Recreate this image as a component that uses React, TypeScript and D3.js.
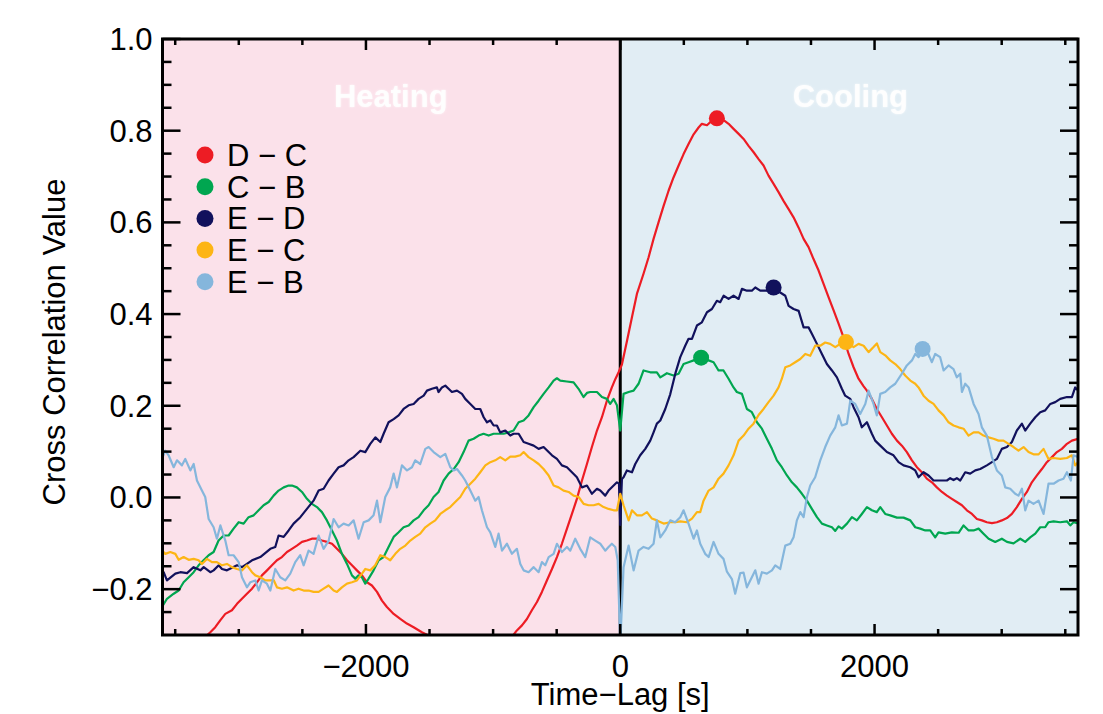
import React from "react";
import * as d3 from "d3";

type Pt = [number, number | null];

// ---- Data (time-lag in s, cross-correlation value) ----
const seriesNames = ["D \u2212 C", "C \u2212 B", "E \u2212 D", "E \u2212 C", "E \u2212 B"];
const seriesColors = ["#ed1c24", "#00a650", "#11115c", "#fdb515", "#85b6dc"];

const dcData: Pt[] = [
  [-3263,-0.304],[-3224,-0.294],[-3185,-0.283],[-3146,-0.268],[-3106,-0.254],[-3054,-0.246],[-3014,-0.232],[-2975,-0.221],[-2936,-0.210],[-2896,-0.199],[-2857,-0.185],[-2818,-0.170],[-2778,-0.159],[-2739,-0.148],[-2700,-0.137],[-2661,-0.130],[-2621,-0.119],[-2582,-0.112],[-2543,-0.105],[-2503,-0.097],[-2464,-0.094],[-2425,-0.090],[-2385,-0.090],[-2346,-0.094],[-2307,-0.097],[-2267,-0.101],[-2228,-0.112],[-2189,-0.123],[-2149,-0.137],[-2110,-0.148],[-2071,-0.159],[-2031,-0.170],[-1992,-0.185],[-1953,-0.192],[-1913,-0.206],[-1874,-0.225],[-1835,-0.239],[-1782,-0.254],[-1730,-0.265],[-1678,-0.275],[-1625,-0.283],[-1560,-0.294],[-1494,-0.303],
  [-1200,null],
  [-852,-0.304],[-813,-0.290],[-773,-0.279],[-734,-0.265],[-695,-0.246],[-655,-0.228],[-616,-0.206],[-577,-0.181],[-537,-0.156],[-498,-0.130],[-459,-0.101],[-419,-0.068],[-380,-0.036],[-341,-0.003],[-301,0.037],[-262,0.073],[-223,0.110],[-183,0.146],[-144,0.175],[-105,0.211],[-66,0.240],[-39,0.258],[-13,0.273],[13,0.290],[52,0.340],[92,0.393],[131,0.444],[183,0.488],[223,0.524],[262,0.564],[301,0.600],[341,0.636],[380,0.669],[419,0.698],[459,0.724],[498,0.749],[537,0.771],[577,0.792],[616,0.807],[642,0.815],[682,0.812],[721,0.822],[760,0.827],[813,0.823],[852,0.815],[891,0.804],[931,0.793],[970,0.782],[1009,0.767],[1049,0.753],[1088,0.738],[1127,0.724],[1166,0.702],[1206,0.684],[1245,0.666],[1284,0.647],[1324,0.629],[1363,0.611],[1402,0.589],[1442,0.564],[1481,0.546],[1520,0.520],[1560,0.495],[1599,0.466],[1638,0.437],[1678,0.408],[1717,0.379],[1756,0.349],[1796,0.313],[1835,0.284],[1874,0.259],[1913,0.243],[1940,0.233],[1979,0.215],[2018,0.193],[2058,0.175],[2097,0.157],[2136,0.139],[2176,0.124],[2215,0.113],[2254,0.099],[2294,0.081],[2333,0.066],[2372,0.055],[2411,0.041],[2451,0.033],[2490,0.022],[2530,0.012],[2569,0.004],[2608,-0.003],[2647,-0.010],[2687,-0.017],[2726,-0.028],[2766,-0.036],[2805,-0.047],[2844,-0.050],[2883,-0.054],[2923,-0.056],[2962,-0.054],[3001,-0.050],[3041,-0.045],[3080,-0.036],[3119,-0.021],[3159,-0.003],[3198,0.012],[3237,0.033],[3277,0.048],[3316,0.062],[3355,0.077],[3395,0.088],[3434,0.099],[3473,0.106],[3513,0.117],[3552,0.124],[3600,0.128],
];

const cbData: Pt[] = [
  [-3604,-0.239],[-3565,-0.221],[-3512,-0.210],[-3473,-0.203],[-3434,-0.185],[-3394,-0.174],[-3355,-0.163],[-3316,-0.148],[-3277,-0.137],[-3237,-0.126],[-3198,-0.119],[-3159,-0.094],[-3119,-0.083],[-3080,-0.083],[-3041,-0.068],[-3001,-0.054],[-2962,-0.057],[-2923,-0.043],[-2883,-0.039],[-2844,-0.028],[-2805,-0.017],[-2765,-0.010],[-2726,0.004],[-2687,0.015],[-2647,0.022],[-2608,0.026],[-2582,0.026],[-2543,0.022],[-2503,0.012],[-2464,-0.003],[-2425,-0.014],[-2385,-0.021],[-2346,-0.032],[-2307,-0.050],[-2267,-0.072],[-2228,-0.094],[-2189,-0.123],[-2149,-0.145],[-2110,-0.170],[-2084,-0.177],[-2058,-0.170],[-2032,-0.174],[-2005,-0.188],[-1979,-0.177],[-1940,-0.159],[-1900,-0.137],[-1861,-0.130],[-1822,-0.108],[-1782,-0.086],[-1743,-0.076],[-1704,-0.065],[-1664,-0.061],[-1625,-0.050],[-1586,-0.043],[-1546,-0.028],[-1507,-0.017],[-1468,0.001],[-1429,0.012],[-1389,0.037],[-1350,0.052],[-1310,0.062],[-1271,0.077],[-1232,0.099],[-1193,0.124],[-1153,0.128],[-1114,0.135],[-1075,0.139],[-1035,0.135],[-996,0.139],[-957,0.139],[-917,0.139],[-878,0.142],[-839,0.146],[-799,0.164],[-760,0.168],[-721,0.179],[-681,0.197],[-642,0.211],[-603,0.226],[-563,0.240],[-524,0.255],[-498,0.260],[-472,0.255],[-420,0.253],[-367,0.251],[-328,0.237],[-289,0.219],[-262,0.228],[-236,0.230],[-183,0.230],[-144,0.219],[-105,0.215],[-79,0.204],[-52,0.215],[-26,0.201],[0,0.146],[26,0.226],[66,0.230],[105,0.233],[144,0.248],[183,0.277],[236,0.273],[288,0.273],[315,0.262],[367,0.271],[419,0.266],[459,0.270],[498,0.291],[537,0.295],[577,0.299],[636,0.305],[695,0.299],[734,0.295],[773,0.277],[812,0.277],[852,0.259],[891,0.240],[917,0.230],[957,0.226],[996,0.193],[1035,0.186],[1075,0.164],[1114,0.150],[1153,0.128],[1193,0.106],[1232,0.081],[1271,0.066],[1311,0.048],[1350,0.033],[1389,0.022],[1429,0.008],[1468,-0.007],[1507,-0.025],[1547,-0.043],[1586,-0.057],[1625,-0.061],[1665,-0.065],[1691,-0.073],[1717,-0.063],[1743,-0.068],[1783,-0.057],[1822,-0.043],[1861,-0.050],[1900,-0.036],[1940,-0.021],[1979,-0.028],[2018,-0.032],[2045,-0.021],[2084,-0.036],[2123,-0.039],[2176,-0.044],[2228,-0.044],[2281,-0.050],[2320,-0.065],[2359,-0.068],[2399,-0.072],[2438,-0.072],[2477,-0.087],[2503,-0.076],[2556,-0.079],[2608,-0.076],[2661,-0.077],[2700,-0.061],[2740,-0.072],[2779,-0.072],[2818,-0.068],[2857,-0.079],[2897,-0.090],[2949,-0.097],[3001,-0.090],[3041,-0.097],[3093,-0.100],[3146,-0.090],[3185,-0.097],[3224,-0.087],[3264,-0.079],[3303,-0.065],[3342,-0.065],[3368,-0.054],[3408,-0.052],[3460,-0.054],[3513,-0.052],[3539,-0.061],[3565,-0.054],[3604,-0.057],
];

const edData: Pt[] = [
  [-3604,-0.170],[-3591,-0.163],[-3565,-0.181],[-3499,-0.166],[-3460,-0.163],[-3407,-0.165],[-3355,-0.152],[-3302,-0.159],[-3276,-0.152],[-3224,-0.163],[-3198,-0.159],[-3158,-0.148],[-3132,-0.156],[-3093,-0.159],[-3014,-0.148],[-2975,-0.152],[-2936,-0.145],[-2896,-0.137],[-2831,-0.130],[-2752,-0.112],[-2713,-0.108],[-2687,-0.083],[-2647,-0.086],[-2608,-0.072],[-2569,-0.057],[-2516,-0.043],[-2464,-0.025],[-2412,-0.007],[-2372,0.015],[-2333,0.019],[-2294,0.037],[-2254,0.052],[-2215,0.066],[-2176,0.070],[-2136,0.081],[-2097,0.088],[-2044,0.102],[-2005,0.099],[-1966,0.117],[-1926,0.131],[-1887,0.121],[-1861,0.139],[-1822,0.164],[-1782,0.171],[-1743,0.179],[-1704,0.193],[-1664,0.201],[-1625,0.204],[-1586,0.215],[-1546,0.222],[-1520,0.233],[-1481,0.237],[-1442,0.240],[-1429,0.230],[-1402,0.240],[-1376,0.244],[-1350,0.237],[-1324,0.230],[-1284,0.233],[-1245,0.226],[-1219,0.215],[-1179,0.204],[-1140,0.193],[-1101,0.193],[-1074,0.175],[-1048,0.164],[-1022,0.168],[-996,0.157],[-970,0.157],[-944,0.142],[-904,0.146],[-865,0.135],[-839,0.139],[-799,0.139],[-760,0.121],[-721,0.117],[-681,0.113],[-642,0.106],[-603,0.110],[-563,0.099],[-537,0.092],[-498,0.084],[-459,0.070],[-419,0.066],[-380,0.055],[-341,0.044],[-301,0.022],[-262,0.026],[-223,0.008],[-183,0.019],[-157,0.015],[-118,0.004],[-92,0.015],[-52,0.026],[-26,0.033],[-10,0.030],[0,-0.060],[13,0.040],[26,0.044],[52,0.059],[92,0.055],[118,0.073],[157,0.092],[197,0.106],[236,0.124],[262,0.142],[288,0.161],[315,0.168],[354,0.193],[393,0.225],[433,0.270],[472,0.306],[511,0.331],[537,0.346],[564,0.346],[603,0.375],[642,0.382],[682,0.404],[721,0.411],[760,0.429],[786,0.426],[813,0.440],[852,0.433],[891,0.440],[931,0.433],[957,0.455],[996,0.451],[1035,0.451],[1062,0.458],[1101,0.451],[1153,0.451],[1206,0.458],[1258,0.447],[1298,0.440],[1324,0.418],[1363,0.411],[1403,0.407],[1442,0.371],[1481,0.371],[1507,0.357],[1547,0.335],[1586,0.313],[1625,0.291],[1665,0.277],[1704,0.262],[1743,0.237],[1769,0.222],[1809,0.215],[1835,0.197],[1874,0.175],[1900,0.153],[1940,0.164],[1979,0.139],[2005,0.124],[2045,0.113],[2097,0.099],[2149,0.092],[2189,0.077],[2228,0.070],[2281,0.066],[2320,0.059],[2346,0.044],[2385,0.055],[2425,0.048],[2464,0.037],[2516,0.037],[2569,0.037],[2595,0.042],[2621,0.038],[2647,0.042],[2674,0.037],[2713,0.055],[2752,0.052],[2792,0.059],[2831,0.062],[2883,0.070],[2923,0.077],[2962,0.084],[3001,0.106],[3041,0.110],[3080,0.121],[3119,0.146],[3159,0.161],[3185,0.146],[3224,0.161],[3264,0.175],[3303,0.186],[3342,0.190],[3382,0.204],[3421,0.208],[3460,0.215],[3513,0.219],[3552,0.219],[3578,0.240],[3612,0.230],
];

const ecData: Pt[] = [
  [-3604,-0.116],[-3578,-0.123],[-3539,-0.119],[-3499,-0.123],[-3473,-0.136],[-3434,-0.130],[-3394,-0.136],[-3355,-0.134],[-3316,-0.137],[-3290,-0.145],[-3250,-0.134],[-3211,-0.141],[-3172,-0.141],[-3132,-0.148],[-3093,-0.145],[-3054,-0.152],[-3014,-0.156],[-2975,-0.159],[-2936,-0.148],[-2896,-0.163],[-2870,-0.170],[-2831,-0.174],[-2792,-0.181],[-2752,-0.181],[-2726,-0.180],[-2700,-0.196],[-2661,-0.199],[-2621,-0.196],[-2569,-0.203],[-2530,-0.199],[-2490,-0.203],[-2451,-0.203],[-2412,-0.206],[-2372,-0.206],[-2333,-0.199],[-2294,-0.192],[-2254,-0.203],[-2228,-0.206],[-2189,-0.196],[-2149,-0.188],[-2110,-0.185],[-2071,-0.181],[-2031,-0.166],[-2005,-0.156],[-1966,-0.159],[-1927,-0.148],[-1887,-0.126],[-1848,-0.130],[-1809,-0.137],[-1769,-0.123],[-1730,-0.112],[-1690,-0.105],[-1651,-0.094],[-1612,-0.086],[-1573,-0.079],[-1533,-0.065],[-1494,-0.057],[-1455,-0.050],[-1415,-0.036],[-1376,-0.028],[-1337,-0.021],[-1298,-0.010],[-1258,0.001],[-1219,0.019],[-1179,0.030],[-1140,0.041],[-1101,0.055],[-1061,0.070],[-1022,0.077],[-983,0.081],[-944,0.088],[-904,0.081],[-865,0.089],[-826,0.089],[-786,0.092],[-760,0.099],[-721,0.088],[-681,0.081],[-642,0.073],[-603,0.062],[-563,0.048],[-524,0.026],[-485,0.022],[-446,0.015],[-406,0.012],[-367,0.004],[-327,0.001],[-288,-0.014],[-249,-0.017],[-209,-0.017],[-170,-0.014],[-131,-0.021],[-92,-0.025],[-52,-0.028],[-26,-0.028],[0,0.008],[26,-0.017],[66,-0.050],[92,-0.028],[131,-0.039],[170,-0.039],[210,-0.032],[249,-0.046],[288,-0.050],[341,-0.057],[393,-0.054],[432,-0.054],[472,-0.052],[524,-0.054],[564,-0.046],[603,-0.032],[629,-0.032],[655,-0.007],[695,0.015],[734,0.022],[773,0.041],[812,0.052],[852,0.070],[891,0.092],[931,0.124],[970,0.135],[1009,0.150],[1048,0.161],[1088,0.180],[1127,0.193],[1166,0.208],[1206,0.222],[1245,0.240],[1271,0.259],[1298,0.284],[1337,0.288],[1376,0.295],[1416,0.302],[1455,0.313],[1494,0.309],[1533,0.331],[1573,0.331],[1612,0.338],[1651,0.335],[1691,0.328],[1730,0.335],[1775,0.339],[1835,0.328],[1874,0.335],[1914,0.331],[1953,0.317],[1992,0.328],[2018,0.336],[2045,0.317],[2084,0.310],[2123,0.299],[2163,0.291],[2202,0.280],[2241,0.266],[2281,0.255],[2320,0.248],[2346,0.240],[2385,0.222],[2425,0.211],[2464,0.204],[2503,0.190],[2543,0.179],[2582,0.164],[2621,0.157],[2661,0.153],[2700,0.150],[2739,0.135],[2779,0.142],[2818,0.142],[2857,0.135],[2897,0.131],[2936,0.128],[2975,0.124],[3014,0.124],[3054,0.117],[3093,0.110],[3132,0.102],[3172,0.110],[3211,0.099],[3250,0.094],[3290,0.094],[3329,0.106],[3368,0.084],[3408,0.086],[3460,0.084],[3513,0.086],[3552,0.092],[3578,0.070],[3612,0.081],
];

const ebData: Pt[] = [
  [-3604,0.084],[-3578,0.102],[-3552,0.092],[-3512,0.066],[-3486,0.081],[-3447,0.070],[-3421,0.084],[-3381,0.059],[-3355,0.073],[-3329,0.037],[-3290,0.015],[-3264,0.001],[-3237,-0.047],[-3198,-0.065],[-3172,-0.090],[-3145,-0.061],[-3106,-0.094],[-3080,-0.126],[-3041,-0.126],[-3001,-0.141],[-2975,-0.174],[-2936,-0.196],[-2910,-0.185],[-2870,-0.181],[-2844,-0.203],[-2818,-0.181],[-2779,-0.188],[-2752,-0.203],[-2713,-0.156],[-2674,-0.174],[-2634,-0.181],[-2595,-0.166],[-2556,-0.141],[-2517,-0.126],[-2490,-0.148],[-2451,-0.116],[-2412,-0.123],[-2372,-0.083],[-2333,-0.112],[-2293,-0.094],[-2254,-0.047],[-2215,-0.065],[-2176,-0.057],[-2136,-0.061],[-2097,-0.050],[-2058,-0.090],[-2018,-0.054],[-1979,-0.050],[-1940,-0.039],[-1913,-0.007],[-1887,-0.054],[-1848,0.001],[-1809,0.022],[-1782,0.052],[-1756,0.022],[-1717,0.070],[-1677,0.059],[-1638,0.066],[-1612,0.081],[-1573,0.073],[-1533,0.106],[-1507,0.110],[-1468,0.099],[-1415,0.088],[-1376,0.095],[-1337,0.066],[-1310,0.059],[-1284,0.062],[-1245,0.048],[-1219,0.037],[-1179,0.015],[-1140,-0.007],[-1114,0.001],[-1088,-0.028],[-1048,-0.065],[-1022,-0.076],[-983,-0.108],[-957,-0.079],[-930,-0.116],[-891,-0.101],[-852,-0.123],[-813,-0.112],[-786,-0.145],[-760,-0.159],[-721,-0.163],[-681,-0.152],[-642,-0.163],[-616,-0.141],[-590,-0.148],[-563,-0.130],[-524,-0.123],[-498,-0.101],[-459,-0.119],[-419,-0.108],[-393,-0.116],[-354,-0.090],[-315,-0.112],[-275,-0.130],[-236,-0.087],[-197,-0.094],[-157,-0.101],[-118,-0.116],[-92,-0.108],[-66,-0.101],[-39,-0.108],[-20,-0.137],[0,-0.320],[26,-0.152],[66,-0.105],[105,-0.159],[144,-0.116],[183,-0.108],[223,-0.112],[262,-0.101],[288,-0.050],[315,-0.087],[354,-0.072],[393,-0.050],[432,-0.054],[472,-0.043],[498,-0.028],[537,-0.057],[577,-0.090],[603,-0.072],[629,-0.101],[668,-0.123],[695,-0.130],[734,-0.097],[773,-0.123],[812,-0.134],[839,-0.162],[878,-0.178],[904,-0.210],[944,-0.165],[970,-0.164],[996,-0.196],[1035,-0.174],[1062,-0.159],[1088,-0.188],[1114,-0.163],[1153,-0.166],[1193,-0.159],[1219,-0.148],[1258,-0.156],[1298,-0.105],[1337,-0.101],[1363,-0.087],[1389,-0.050],[1416,-0.032],[1442,-0.043],[1468,0.001],[1494,0.026],[1533,0.044],[1573,0.081],[1612,0.110],[1651,0.135],[1691,0.153],[1717,0.179],[1743,0.157],[1783,0.161],[1809,0.211],[1848,0.204],[1887,0.182],[1927,0.204],[1953,0.233],[1992,0.204],[2018,0.179],[2045,0.226],[2084,0.230],[2123,0.240],[2163,0.248],[2215,0.270],[2254,0.288],[2294,0.299],[2320,0.313],[2346,0.306],[2378,0.324],[2412,0.320],[2451,0.295],[2477,0.313],[2516,0.306],[2543,0.277],[2582,0.288],[2621,0.280],[2647,0.262],[2674,0.270],[2687,0.230],[2713,0.248],[2740,0.240],[2779,0.204],[2818,0.182],[2844,0.153],[2883,0.135],[2923,0.088],[2962,0.059],[3001,0.048],[3028,0.022],[3067,0.019],[3106,0.008],[3132,0.004],[3159,0.019],[3185,-0.028],[3211,-0.007],[3250,-0.014],[3290,-0.007],[3329,-0.036],[3368,0.030],[3408,0.030],[3447,0.037],[3486,0.041],[3513,0.055],[3544,0.037],[3565,0.092],[3597,0.088],
];

const allSeries: Pt[][] = [dcData, cbData, edData, ecData, ebData];

// peak markers
const peakT = [760, 636, 1206, 1775, 2378];
const peakV = [0.827, 0.305, 0.458, 0.339, 0.324];

// axes
const xDomain: [number, number] = [-3600, 3600];
const yDomain: [number, number] = [-0.3, 1.0];
const xMajorTicks = [-2000, 0, 2000];
const xMinorTicks = [-3500, -3000, -2500, -1500, -1000, -500, 500, 1000, 1500, 2500, 3000, 3500];
const yMajorTicks = [-0.2, 0.0, 0.2, 0.4, 0.6, 0.8, 1.0];
const yMinorTicks = [-0.25, -0.15, -0.1, -0.05, 0.05, 0.1, 0.15, 0.25, 0.3, 0.35, 0.45, 0.5, 0.55, 0.65, 0.7, 0.75, 0.85, 0.9, 0.95];
const regionLabels = ["Heating", "Cooling"];
const regionLabelT = [-1805, 1810];
const xTitle = "Time\u2212Lag [s]";
const yTitle = "Cross Correlation Value";

const W = 1103;
const H = 714;
const L = 162.5, R = 1078, T = 39, B = 635;
const FONT = "'Liberation Sans', Arial, Helvetica, sans-serif";

export default function App() {
  const x = d3.scaleLinear().domain(xDomain).range([L, R]);
  const y = d3.scaleLinear().domain(yDomain).range([B, T]);
  const line = d3
    .line<Pt>()
    .defined((d) => d[1] !== null)
    .x((d) => x(d[0]))
    .y((d) => y(d[1] as number));
  const fmtY = d3.format(".1f");
  const fmtX = d3.format("d");
  const x0 = x(0);

  return (
    <svg
      width={W}
      height={H}
      style={{ position: "absolute", left: 0, top: 0, background: "#ffffff" }}
      fontFamily={FONT}
    >
      <defs>
        <clipPath id="plotClip">
          <rect x={L} y={T} width={R - L} height={B - T} />
        </clipPath>
        <filter id="glow" x="-20%" y="-40%" width="140%" height="180%">
          <feGaussianBlur stdDeviation="1.2" />
        </filter>
      </defs>

      {/* backgrounds */}
      <rect x={L} y={T} width={x0 - L} height={B - T} fill="#fbe1ea" />
      <rect x={x0} y={T} width={R - x0} height={B - T} fill="#e1edf4" />

      {/* region labels */}
      {regionLabels.map((lab, i) => (
        <g key={lab}>
          <text x={x(regionLabelT[i])} y={107} textAnchor="middle" fontSize={31} fontWeight="bold" fill="#ffffff" opacity={0.7} filter="url(#glow)">
            {lab}
          </text>
          <text x={x(regionLabelT[i])} y={107} textAnchor="middle" fontSize={31} fontWeight="bold" fill="#ffffff" opacity={0.92}>
            {lab}
          </text>
        </g>
      ))}

      {/* zero line */}
      <line x1={x0} x2={x0} y1={T} y2={B} stroke="#000" strokeWidth={3} />

      {/* curves */}
      <g clipPath="url(#plotClip)">
        {allSeries.map((s, i) => (
          <path key={i} d={line(s) || ""} fill="none" stroke={seriesColors[i]} strokeWidth={2.2} strokeLinejoin="round" />
        ))}
      </g>

      {/* peak markers */}
      {peakT.map((t, i) => (
        <circle key={i} cx={x(t)} cy={y(peakV[i])} r={8} fill={seriesColors[i]} />
      ))}

      {/* legend */}
      {seriesNames.map((n, i) => (
        <g key={n} transform={`translate(205, ${155 + i * 31.7})`}>
          <circle cx={0} cy={0} r={8.5} fill={seriesColors[i]} />
          <text x={22} y={11} fontSize={31} fill="#000">
            {n}
          </text>
        </g>
      ))}

      {/* ticks */}
      <g stroke="#000" strokeWidth={2.5}>
        {yMajorTicks.map((v) => (
          <g key={"ym" + v}>
            <line x1={L} x2={L + 18} y1={y(v)} y2={y(v)} />
            <line x1={R} x2={R - 18} y1={y(v)} y2={y(v)} />
          </g>
        ))}
        {yMinorTicks.map((v) => (
          <g key={"yn" + v}>
            <line x1={L} x2={L + 9} y1={y(v)} y2={y(v)} />
            <line x1={R} x2={R - 9} y1={y(v)} y2={y(v)} />
          </g>
        ))}
        {xMajorTicks.map((t) => (
          <g key={"xm" + t}>
            <line x1={x(t)} x2={x(t)} y1={B} y2={B - 11} />
            <line x1={x(t)} x2={x(t)} y1={T} y2={T + 11} />
          </g>
        ))}
        {xMinorTicks.map((t) => (
          <g key={"xn" + t}>
            <line x1={x(t)} x2={x(t)} y1={B} y2={B - 6} />
            <line x1={x(t)} x2={x(t)} y1={T} y2={T + 6} />
          </g>
        ))}
      </g>

      {/* frame */}
      <rect x={L} y={T} width={R - L} height={B - T} fill="none" stroke="#000" strokeWidth={3} />

      {/* tick labels */}
      {yMajorTicks.map((v) => (
        <text key={"yl" + v} x={152.5} y={y(v) + 11} textAnchor="end" fontSize={31} fill="#000">
          {fmtY(v)}
        </text>
      ))}
      {xMajorTicks.map((t) => (
        <text key={"xl" + t} x={x(t)} y={677} textAnchor="middle" fontSize={31} fill="#000">
          {fmtX(t)}
        </text>
      ))}

      {/* axis titles */}
      <text x={x(0)} y={705} textAnchor="middle" fontSize={31} fill="#000">
        {xTitle}
      </text>
      <text transform={`translate(65, ${342}) rotate(-90)`} textAnchor="middle" fontSize={31} fill="#000">
        {yTitle}
      </text>
    </svg>
  );
}
